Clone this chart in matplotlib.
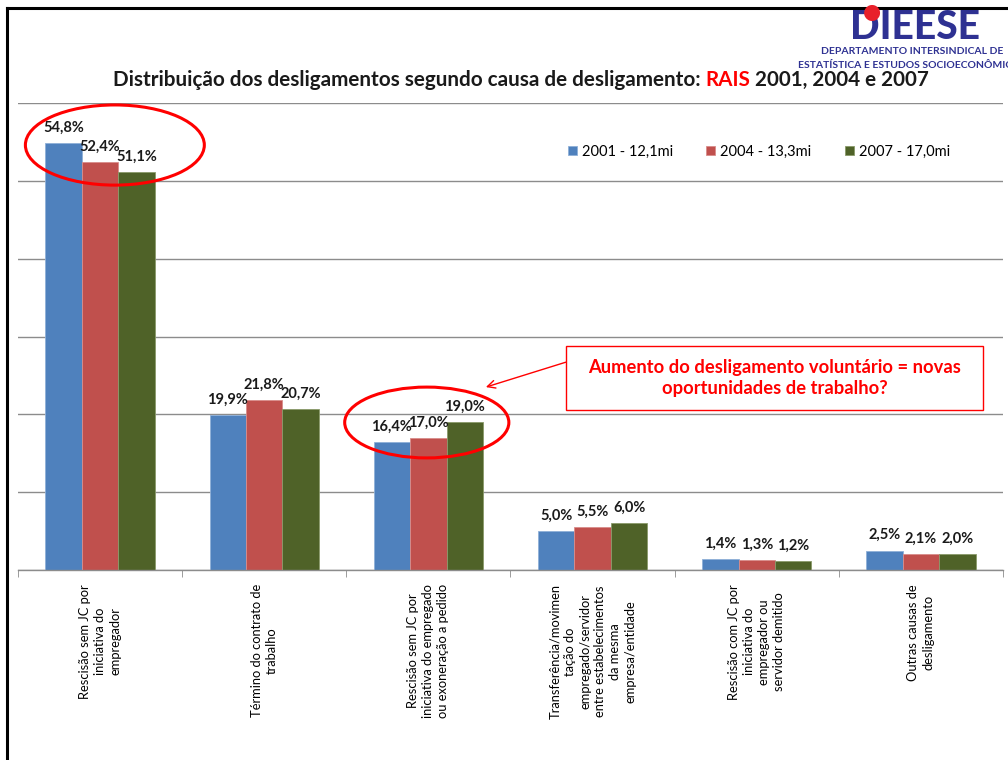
import matplotlib
matplotlib.use("Agg")
from matplotlib import pyplot
from matplotlib.patches import Ellipse, Rectangle
from matplotlib.lines import Line2D
import numpy as np

pyplot.rcParams['font.family'] = ['Lato', 'DejaVu Sans']

categories = [
    "Rescisão sem JC por\niniciativa do\nempregador",
    "Término do contrato de\ntrabalho",
    "Rescisão sem JC por\niniciativa do empregado\nou exoneração a pedido",
    "Transferência/movimen\ntação do\nempregado/servidor\nentre estabelecimentos\nda mesma\nempresa/entidade",
    "Rescisão com JC por\niniciativa do\nempregador ou\nservidor demitido",
    "Outras causas de\ndesligamento",
]
series_names = ["2001 - 12,1mi", "2004 - 13,3mi", "2007 - 17,0mi"]
values_2001 = [54.8, 19.9, 16.4, 5.0, 1.4, 2.5]
values_2004 = [52.4, 21.8, 17.0, 5.5, 1.3, 2.1]
values_2007 = [51.1, 20.7, 19.0, 6.0, 1.2, 2.0]
colors = ["#4F81BD", "#C0504D", "#4F6228"]
edges = ["#8fb0d8", "#d98c8a", "#8a9a6a"]

fig = pyplot.figure(figsize=(10.08, 7.6), dpi=100)
ax = fig.add_axes([18 / 1008, 190 / 760, 985 / 1008, 467 / 760])

x = np.arange(len(categories))
width = 1 / 4.5
for i, vals in enumerate([values_2001, values_2004, values_2007]):
    pos = x + (i - 1) * width
    ax.bar(pos, vals, width, color=colors[i], edgecolor=edges[i], linewidth=0.6,
           label=series_names[i], zorder=2)
    for px, v in zip(pos, vals):
        ax.annotate(("%.1f%%" % v).replace(".", ","), (px, v), xytext=(0, 6),
                    textcoords="offset points", ha="center", va="bottom",
                    fontsize=10.5, fontweight="bold", color="#1a1a1a")

ax.set_xlim(-0.5, len(categories) - 0.5)
ax.set_ylim(0, 60)
ax.set_yticks(np.arange(0, 61, 10))
ax.set_yticklabels([])
ax.tick_params(axis="y", length=0)
ax.grid(axis="y", color="#8c8c8c", linewidth=1.0, zorder=0)
ax.set_axisbelow(True)
for s in ["left", "right", "top"]:
    ax.spines[s].set_visible(False)
ax.spines["bottom"].set_color("#8c8c8c")
ax.spines["bottom"].set_linewidth(1.0)

ax.set_xticks(x)
ax.set_xticklabels(categories, rotation=90, fontsize=9.3, linespacing=1.3)
ax.set_xticks(np.arange(-0.5, len(categories), 1), minor=True)
ax.tick_params(axis="x", which="major", length=0, pad=10)
ax.tick_params(axis="x", which="minor", length=5, color="#8c8c8c")

ax.legend(loc="center", bbox_to_anchor=(759 / 1008, 1 - 152 / 760),
          bbox_transform=fig.transFigure, ncol=3, frameon=False, fontsize=10.5,
          handlelength=0.6, handleheight=0.6, handletextpad=0.35, columnspacing=2.3)

# ellipses highlighting
ax.add_patch(Ellipse((0.09, 54.6), 1.09, 10.3, fill=False, edgecolor="red",
                     linewidth=2.2, clip_on=False, zorder=5))
ax.add_patch(Ellipse((1.99, 18.95), 1.0, 9.1, fill=False, edgecolor="red",
                     linewidth=2.2, clip_on=False, zorder=5))

# callout box
ax.add_patch(Rectangle((2.837, 20.56), 2.541, 8.22, facecolor="white",
                       edgecolor="red", linewidth=1.0, clip_on=False, zorder=5))
ax.text(4.108, 24.67, "Aumento do desligamento voluntário = novas\noportunidades de trabalho?",
        ha="center", va="center", color="#ff0000", fontsize=13.2, fontweight="bold",
        linespacing=1.3, zorder=6)
ax.annotate("", xy=(2.35, 23.5), xytext=(2.837, 26.7),
            arrowprops=dict(arrowstyle="->", color="red", lw=1.0,
                            shrinkA=0, shrinkB=0, mutation_scale=14), zorder=6)

# title in pieces (RAIS in red)
title_size = 14.9
t1 = fig.text(113 / 1008, 1 - 86 / 760, "Distribuição dos desligamentos segundo causa de desligamento: ",
              ha="left", va="baseline", fontsize=title_size, fontweight="bold", color="#1a1a1a")
t2 = ax.annotate("RAIS", xy=(1, 0), xycoords=t1, ha="left", va="bottom",
                 fontsize=title_size, fontweight="bold", color="#ff0000")
t3 = ax.annotate(" 2001, 2004 e 2007", xy=(1, 0), xycoords=t2, ha="left", va="bottom",
                 fontsize=title_size, fontweight="bold", color="#1a1a1a")

# logo
navy = "#2E3192"
fig.text(915 / 1008, 1 - 39 / 760, "DIEESE", ha="center", va="baseline",
         fontsize=28, fontweight="black", color=navy)
fig.text(872 / 1008, 1 - 12 / 760, "●", ha="center", va="center",
         fontsize=15, color="#e8202a", family="DejaVu Sans")
fig.text(912 / 1008, 1 - 54 / 760, "DEPARTAMENTO INTERSINDICAL DE", ha="center",
         va="baseline", fontsize=7.5, fontweight="bold", color=navy)
fig.text(912 / 1008, 1 - 68 / 760, "ESTATÍSTICA E ESTUDOS SOCIOECONÔMICOS", ha="center",
         va="baseline", fontsize=7.5, fontweight="bold", color=navy)

# slide border
fig.add_artist(Line2D([7 / 1008, 1], [1 - 8 / 760, 1 - 8 / 760], color="black",
                      linewidth=2.2, transform=fig.transFigure))
fig.add_artist(Line2D([7 / 1008, 7 / 1008], [0, 1 - 8 / 760], color="black",
                      linewidth=2.2, transform=fig.transFigure))

fig.savefig("out.png", dpi=100)
